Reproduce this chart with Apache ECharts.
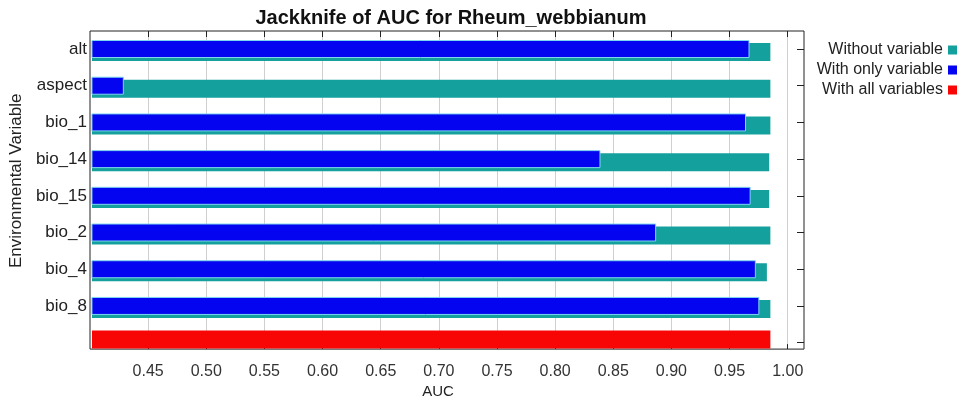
<!DOCTYPE html>
<html>
<head>
<meta charset="utf-8">
<script src="https://cdn.jsdelivr.net/npm/echarts@6/dist/echarts.min.js"></script>
<style>
html,body{margin:0;padding:0;background:#fff;}
#chart{width:979px;height:404px;}
</style>
</head>
<body>
<div id="chart"></div>
<script>
// ---- data ----
var categories = ['alt', 'aspect', 'bio_1', 'bio_14', 'bio_15', 'bio_2', 'bio_4', 'bio_8', ''];
var withoutVariable = [0.985, 0.985, 0.985, 0.984, 0.984, 0.985, 0.982, 0.985, null];
var withOnlyVariable = [0.967, 0.4275, 0.964, 0.8385, 0.968, 0.8865, 0.9725, 0.9755, null];
var withAllVariables = [null, null, null, null, null, null, null, null, 0.985];
var xTicks = [0.45, 0.50, 0.55, 0.60, 0.65, 0.70, 0.75, 0.80, 0.85, 0.90, 0.95, 1.00];
var legendNames = ['Without variable', 'With only variable', 'With all variables'];

var FONT = 'Liberation Sans, Arial, sans-serif';
var XMIN = 0.40, XMAX = 1.014;

var chart = echarts.init(document.getElementById('chart'), null, {renderer: 'canvas'});
var option = {
  backgroundColor: '#ffffff',
  animation: false,
  title: {
    text: 'Jackknife of AUC for Rheum_webbianum',
    left: 446,
    textAlign: 'center',
    top: 3,
    textStyle: {fontFamily: FONT, fontSize: 20, fontWeight: 'bold', color: '#111'}
  },
  legend: {
    data: legendNames,
    orient: 'vertical',
    right: 17,
    top: 37,
    align: 'right',
    icon: 'rect',
    itemWidth: 9,
    itemHeight: 9,
    itemGap: 4,
    itemStyle: {borderWidth: 0},
    textStyle: {fontFamily: FONT, fontSize: 16, color: '#222'}
  },
  grid: [
    // data grid
    {left: 90, right: 175, top: 30.65, bottom: 43, show: false, containLabel: false},
    // frame grid
    {left: 90, right: 175, top: 31, bottom: 52, show: true, borderColor: '#222', borderWidth: 1, backgroundColor: 'transparent', containLabel: false}
  ],
  xAxis: [
    {gridIndex: 0, type: 'value', min: XMIN, max: XMAX, show: false},
    {
      gridIndex: 1, type: 'value', position: 'bottom', min: XMIN, max: XMAX, interval: 0.05,
      name: 'AUC', nameLocation: 'middle', nameGap: 34,
      nameTextStyle: {fontFamily: FONT, fontSize: 15, color: '#222', padding: [0, 18, 0, 0]},
      axisLine: {show: false},
      axisTick: {show: true, inside: true, length: 5, customValues: xTicks, lineStyle: {color: '#222'}},
      axisLabel: {
        customValues: xTicks, margin: 14,
        fontFamily: FONT, fontSize: 16, color: '#333',
        formatter: function (v) { return v.toFixed(2); }
      },
      splitLine: {show: true, lineStyle: {color: '#cfcfcf', width: 1}}
    },
    {
      gridIndex: 1, type: 'value', position: 'top', min: XMIN, max: XMAX, interval: 0.05,
      axisLine: {show: false},
      axisTick: {show: true, inside: true, length: 6, customValues: xTicks, lineStyle: {color: '#222'}},
      axisLabel: {show: false},
      splitLine: {show: false}
    }
  ],
  yAxis: [
    {
      gridIndex: 0, type: 'category', data: categories, inverse: true, position: 'left',
      name: 'Environmental Variable', nameLocation: 'middle', nameGap: 62,
      nameTextStyle: {fontFamily: FONT, fontSize: 17, color: '#222', padding: [0, 0, 0, 30]},
      axisLine: {show: false},
      axisTick: {show: false},
      axisLabel: {margin: 5, fontFamily: FONT, fontSize: 17, color: '#222'},
      splitLine: {show: false}
    },
    {
      gridIndex: 0, type: 'category', data: categories, inverse: true, position: 'right',
      axisLine: {show: false},
      axisTick: {show: true, inside: true, alignWithLabel: true, length: 7, lineStyle: {color: '#222'}},
      axisLabel: {show: false},
      splitLine: {show: false}
    },
    {gridIndex: 1, type: 'value', show: false}
  ],
  series: [
    {
      name: 'With all variables', type: 'bar', xAxisIndex: 0, yAxisIndex: 0,
      data: withAllVariables, barWidth: 18, barGap: '-83%', z: 2,
      itemStyle: {color: '#f80606'}
    },
    {
      name: 'With only variable', type: 'bar', xAxisIndex: 0, yAxisIndex: 0,
      data: withOnlyVariable, barWidth: 18, barGap: '-83%', z: 4,
      itemStyle: {color: '#0404f0', borderColor: '#7fd6ee', borderWidth: 1}
    },
    {
      name: 'Without variable', type: 'bar', xAxisIndex: 0, yAxisIndex: 0,
      data: withoutVariable, barWidth: 18, barGap: '-83%', z: 3,
      itemStyle: {color: '#14a19e'}
    }
  ]
};
chart.setOption(option);
</script>
</body>
</html>
